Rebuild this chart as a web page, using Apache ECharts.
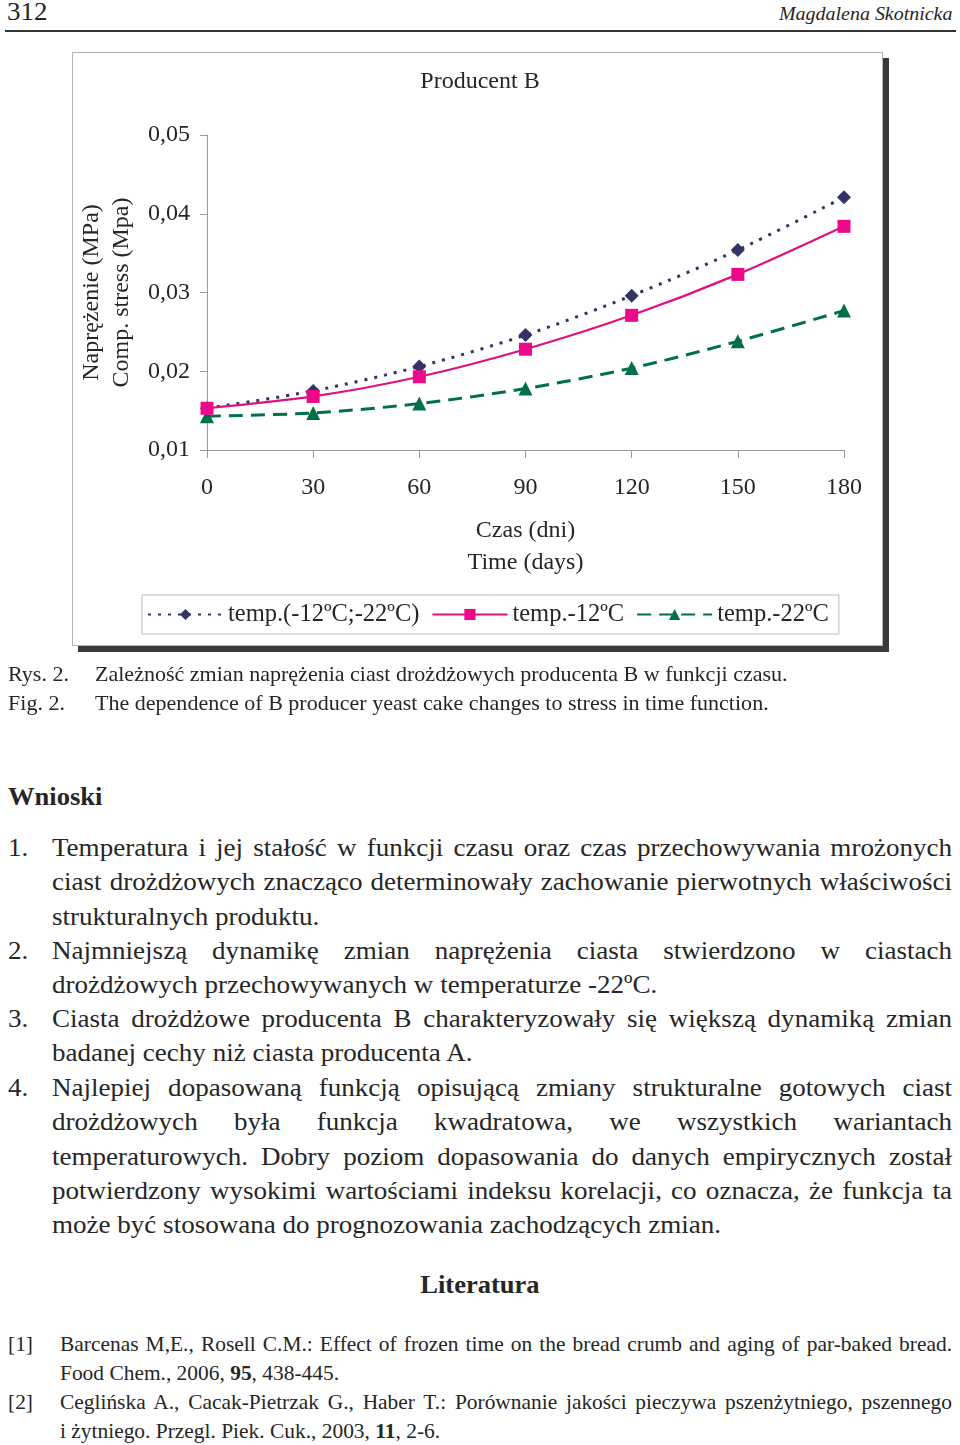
<!DOCTYPE html>
<html>
<head>
<meta charset="utf-8">
<script src="https://cdn.jsdelivr.net/npm/echarts@6/dist/echarts.min.js"></script>
<style>
  html, body { margin:0; padding:0; background:#fff; }
  body { width:960px; height:1445px; position:relative; overflow:hidden;
         font-family:'Liberation Serif','Times New Roman',serif; color:#262626; }
  .abs { position:absolute; white-space:nowrap; transform-origin:left top; transform:scaleX(1.04); }
  #hdrline { position:absolute; left:5px; top:30px; width:951px; height:2px; background:#333; }
  #box { position:absolute; left:72px; top:52px; width:809px; height:592px;
         border:1px solid #b4b4b4; box-shadow:6px 6px 0 #3a3a3a; background:#fff; }
  #chart { position:absolute; left:0; top:0; width:960px; height:700px; }
  .line { font-size:26px; line-height:34.3px; height:34.3px; text-align:justify; text-align-last:justify; white-space:nowrap; }
  .line.last { text-align-last:left; }
  .item { position:absolute; left:8px; width:907.7px; transform-origin:left top; transform:scaleX(1.04); }
  .item .num { position:absolute; left:0; top:0; font-size:26px; line-height:34.3px; }
  .item .txt { margin-left:42.3px; }
  .ref { position:absolute; left:8px; width:907.7px; transform-origin:left top; transform:scaleX(1.04); }
  .ref .num { position:absolute; left:0; top:0; font-size:20.6px; line-height:29px; }
  .ref .txt { margin-left:50px; }
  .rline { font-size:20.6px; line-height:29px; height:29px; text-align:justify; text-align-last:justify; white-space:nowrap; }
  .rline.last { text-align-last:left; }
  .cap { font-size:21.2px; line-height:29px; }
</style>
</head>
<body>
<div class="abs" style="left:7px; top:-3px; font-size:26px; line-height:30px;">312</div>
<div class="abs" style="left:779px; top:1px; font-size:19.2px; line-height:26px; font-style:italic;">Magdalena Skotnicka</div>
<div id="hdrline"></div>
<div id="box"></div>
<div id="chart"></div>

<div class="abs cap" style="left:8px; top:660px;">Rys. 2.</div>
<div class="abs cap" style="left:95px; top:660px;">Zależność zmian naprężenia ciast drożdżowych producenta B w funkcji czasu.</div>
<div class="abs cap" style="left:8px; top:689px;">Fig. 2.</div>
<div class="abs cap" style="left:95px; top:689px;">The dependence of B producer yeast cake changes to stress in time function.</div>

<div class="abs" style="left:8px; top:781px; font-size:25.5px; line-height:32px; font-weight:bold;">Wnioski</div>

<div class="item" style="top:831px;">
  <div class="num">1.</div>
  <div class="txt">
    <div class="line">Temperatura i jej stałość w funkcji czasu oraz czas przechowywania mrożonych</div>
    <div class="line">ciast drożdżowych znacząco determinowały zachowanie pierwotnych właściwości</div>
    <div class="line last">strukturalnych produktu.</div>
  </div>
</div>
<div class="item" style="top:934px;">
  <div class="num">2.</div>
  <div class="txt">
    <div class="line">Najmniejszą dynamikę zmian naprężenia ciasta stwierdzono w ciastach</div>
    <div class="line last">drożdżowych przechowywanych w temperaturze -22ºC.</div>
  </div>
</div>
<div class="item" style="top:1002px;">
  <div class="num">3.</div>
  <div class="txt">
    <div class="line">Ciasta drożdżowe producenta B charakteryzowały się większą dynamiką zmian</div>
    <div class="line last">badanej cechy niż ciasta producenta A.</div>
  </div>
</div>
<div class="item" style="top:1071px;">
  <div class="num">4.</div>
  <div class="txt">
    <div class="line">Najlepiej dopasowaną funkcją opisującą zmiany strukturalne gotowych ciast</div>
    <div class="line">drożdżowych była funkcja kwadratowa, we wszystkich wariantach</div>
    <div class="line">temperaturowych. Dobry poziom dopasowania do danych empirycznych został</div>
    <div class="line">potwierdzony wysokimi wartościami indeksu korelacji, co oznacza, że funkcja ta</div>
    <div class="line last">może być stosowana do prognozowania zachodzących zmian.</div>
  </div>
</div>

<div class="abs" style="left:0; width:923px; text-align:center; top:1269px; font-size:25.5px; line-height:32px; font-weight:bold;">Literatura</div>

<div class="ref" style="top:1330px;">
  <div class="num">[1]</div>
  <div class="txt">
    <div class="rline">Barcenas M,E., Rosell C.M.: Effect of frozen time on the bread crumb and aging of par-baked bread.</div>
    <div class="rline last">Food Chem., 2006, <b>95</b>, 438-445.</div>
  </div>
</div>
<div class="ref" style="top:1388px;">
  <div class="num">[2]</div>
  <div class="txt">
    <div class="rline">Ceglińska A., Cacak-Pietrzak G., Haber T.: Porównanie jakości pieczywa pszenżytniego, pszennego</div>
    <div class="rline last">i żytniego. Przegl. Piek. Cuk., 2003, <b>11</b>, 2-6.</div>
  </div>
</div>

<script>
// ---- data ----
var days = [0, 30, 60, 90, 120, 150, 180];
var seriesNames = ['temp.(-12ºC;-22ºC)', 'temp.-12ºC', 'temp.-22ºC'];
var stressMixed = [0.0153, 0.0175, 0.0206, 0.0246, 0.0296, 0.0354, 0.0421];
var stressMinus12 = [0.0153, 0.0168, 0.0193, 0.0228, 0.0271, 0.0323, 0.0384];
var stressMinus22 = [0.0143, 0.0147, 0.0159, 0.0178, 0.0204, 0.0238, 0.0277];
var yTicks = [0.01, 0.02, 0.03, 0.04, 0.05];

function pairs(vals) { return days.map(function (d, i) { return [d, vals[i]]; }); }

var FONT = "'Liberation Serif','Times New Roman',serif";
var TXT = '#262626';
var chart = echarts.init(document.getElementById('chart'), null, { renderer: 'canvas' });
chart.setOption({
  animation: false,
  backgroundColor: 'transparent',
  textStyle: { fontFamily: FONT, color: TXT },
  title: {
    text: 'Producent B', left: 'center', top: 65,
    textStyle: { fontFamily: FONT, fontSize: 24, fontWeight: 'normal', color: TXT }
  },
  grid: { left: 207, right: 116, top: 135, height: 315 },
  legend: {
    left: 142, top: 595,
    padding: [7, 10, 7, 5], itemGap: 12, itemWidth: 75, itemHeight: 14,
    borderColor: '#bdbdbd', borderWidth: 1,
    textStyle: { fontFamily: FONT, fontSize: 24.5, color: TXT, lineHeight: 25 },
    data: seriesNames
  },
  xAxis: {
    type: 'value', min: 0, max: 180, interval: 30,
    name: 'Czas (dni)\nTime (days)', nameLocation: 'middle', nameGap: 65,
    nameTextStyle: { fontFamily: FONT, fontSize: 24, color: TXT, lineHeight: 32 },
    axisLine: { lineStyle: { color: '#9a9a9a', width: 1 } },
    axisTick: { length: 8, lineStyle: { color: '#9a9a9a' } },
    axisLabel: { fontFamily: FONT, fontSize: 24, color: TXT, margin: 26 },
    splitLine: { show: false }
  },
  yAxis: {
    type: 'value', min: yTicks[0], max: yTicks[yTicks.length - 1], interval: 0.01,
    name: 'Naprężenie (MPa)\nComp. stress (Mpa)', nameLocation: 'middle', nameRotate: 90, nameGap: 70,
    nameTextStyle: { fontFamily: FONT, fontSize: 24, color: TXT, lineHeight: 30 },
    axisLine: { show: true, lineStyle: { color: '#9a9a9a', width: 1 } },
    axisTick: { show: true, length: 7, lineStyle: { color: '#9a9a9a' } },
    axisLabel: { fontFamily: FONT, fontSize: 24, color: TXT, margin: 17,
      formatter: function (v) { return v.toFixed(2).replace('.', ','); } },
    splitLine: { show: false }
  },
  series: [
    {
      name: seriesNames[0], type: 'line', smooth: 0.3, data: pairs(stressMixed),
      symbol: 'diamond', symbolSize: 14,
      lineStyle: { color: '#333366', width: 3, type: [3, 7] },
      itemStyle: { color: '#333366' }, z: 3
    },
    {
      name: seriesNames[1], type: 'line', smooth: 0.3, data: pairs(stressMinus12),
      symbol: 'rect', symbolSize: 13,
      lineStyle: { color: '#e0107f', width: 2.2, type: 'solid' },
      itemStyle: { color: '#ec0a8a' }, z: 4
    },
    {
      name: seriesNames[2], type: 'line', smooth: 0.3, data: pairs(stressMinus22),
      symbol: 'triangle', symbolSize: 14,
      lineStyle: { color: '#00704a', width: 3, type: [14, 8] },
      itemStyle: { color: '#00704a' }, z: 2
    }
  ]
});
</script>
</body>
</html>
